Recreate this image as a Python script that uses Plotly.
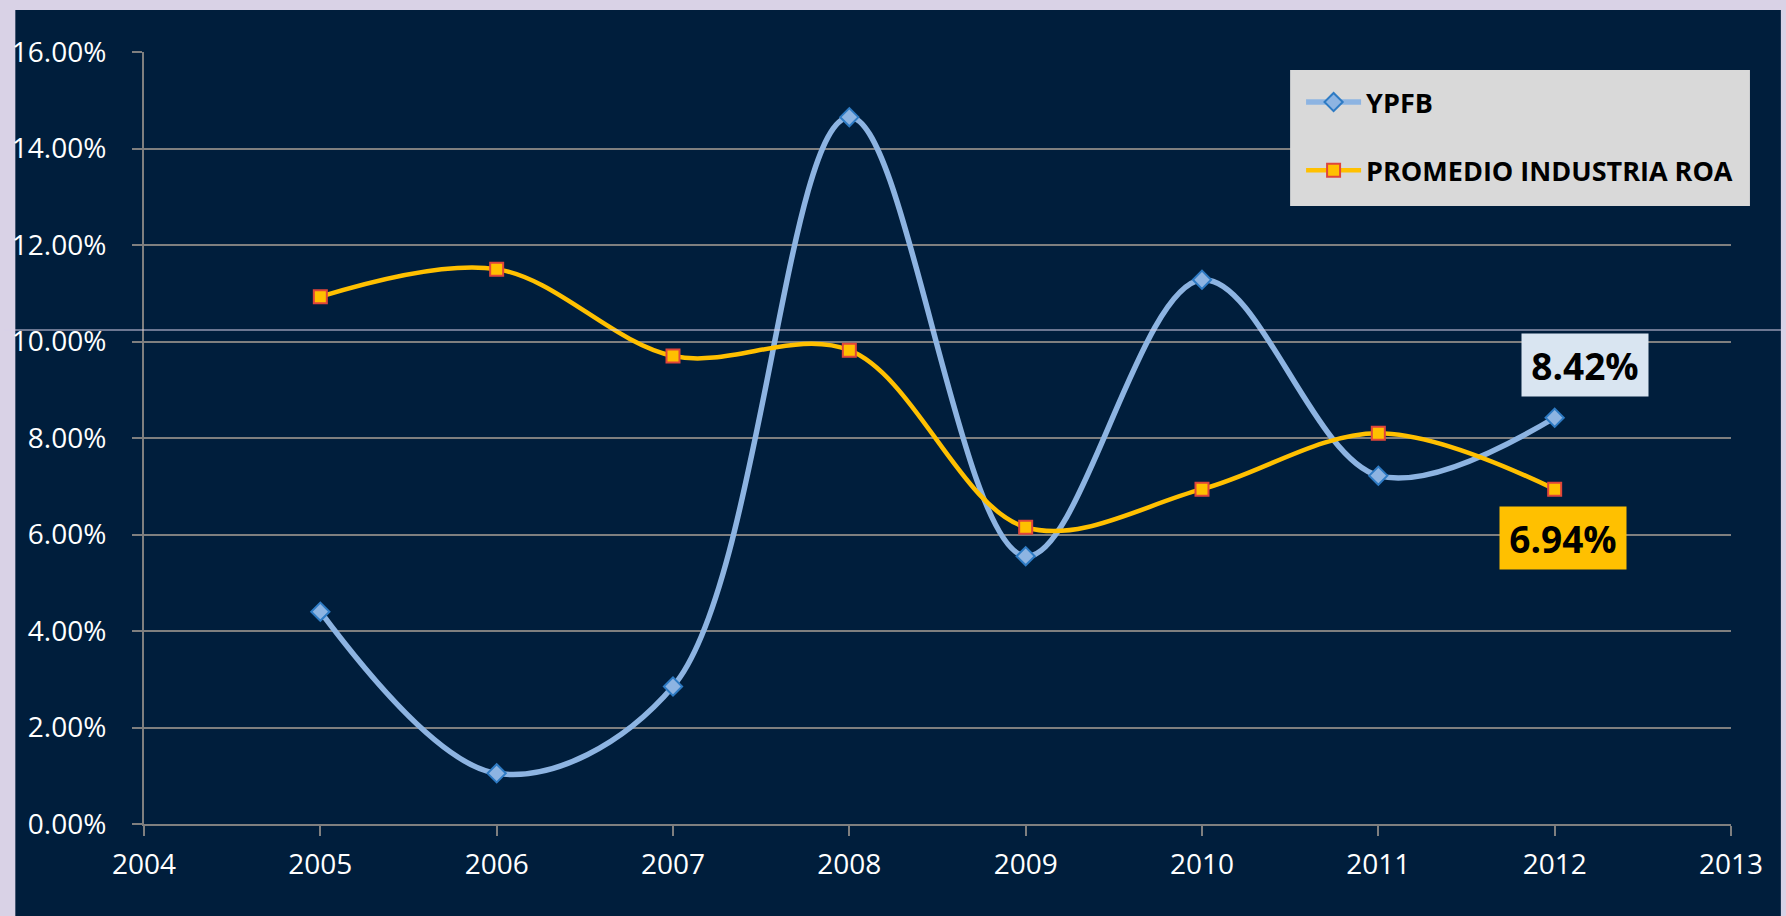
import plotly.graph_objects as go

years = [2005, 2006, 2007, 2008, 2009, 2010, 2011, 2012]
ypfb = [4.40, 1.05, 2.85, 14.65, 5.55, 11.28, 7.22, 8.42]
promedio = [10.93, 11.50, 9.70, 9.82, 6.15, 6.94, 8.10, 6.94]
series_names = ["YPFB", "PROMEDIO INDUSTRIA ROA"]
label_ypfb = "8.42%"
label_prom = "6.94%"

W, H = 1786, 916
ML, MR, MT, MB = 140, 55, 52, 92
PW, PH = W - ML - MR, H - MT - MB

def px(x):
    return (x - ML) / PW

def py(y):
    return (H - MB - y) / PH

FONT = "Open Sans"
BG = "#D9D2E6"
PANEL = "#001E3C"
GRID = "#7F7F7F"

fig = go.Figure()
fig.add_trace(go.Scatter(
    x=years, y=ypfb, name=series_names[0], mode="lines+markers",
    line=dict(color="#8DB4E2", width=5.5, shape="spline", smoothing=1.0),
    marker=dict(symbol="diamond", size=14, color="#8DB4E2",
                line=dict(color="#2E7BC4", width=2)),
    legendgroup="a",
))
fig.add_trace(go.Scatter(
    x=years, y=promedio, name=series_names[1], mode="lines+markers",
    line=dict(color="#FFC000", width=4.5, shape="spline", smoothing=1.0),
    marker=dict(symbol="square", size=13, color="#FFC000",
                line=dict(color="#E0453A", width=2)),
    legendgroup="b",
))

shapes = [
    dict(type="rect", xref="paper", yref="paper", layer="below",
         x0=px(11), x1=px(1781), y0=py(930), y1=py(10),
         fillcolor=PANEL, line=dict(width=0)),
    dict(type="rect", xref="paper", yref="paper", layer="above",
         x0=px(1289), x1=px(1750), y0=py(206), y1=py(70),
         fillcolor="#D9D9D9", line=dict(width=0)),
    dict(type="line", xref="paper", yref="paper", layer="above",
         x0=px(0), x1=px(W), y0=py(330), y1=py(330),
         line=dict(color="#D8D0E8", width=1)),
]

annotations = [
    dict(x=years[-1], y=ypfb[-1], xref="x", yref="y", text="<b>" + label_ypfb + "</b>",
         showarrow=False, xshift=30, yshift=53, width=124, height=60,
         bgcolor="#D9E5F1", font=dict(family=FONT, size=37, color="black")),
    dict(x=years[-1], y=promedio[-1], xref="x", yref="y", text="<b>" + label_prom + "</b>",
         showarrow=False, xshift=8, yshift=-49, width=124, height=60,
         bgcolor="#FFC000", font=dict(family=FONT, size=37, color="black")),
]

fig.update_layout(
    width=W, height=H,
    margin=dict(l=ML, r=MR, t=MT, b=MB, pad=0),
    paper_bgcolor=BG, plot_bgcolor="rgba(0,0,0,0)",
    font=dict(family=FONT, size=28, color="white"),
    shapes=shapes, annotations=annotations,
    showlegend=True,
    legend=dict(x=px(1300), y=py(78), xanchor="left", yanchor="top",
                bgcolor="rgba(0,0,0,0)", borderwidth=0,
                font=dict(family=FONT, size=27, color="black", weight="bold"),
                itemwidth=55, tracegroupgap=30),
    xaxis=dict(range=[2004, 2013], dtick=1, tick0=2004, showgrid=False,
               showline=True, linecolor=GRID, linewidth=2,
               ticks="outside", ticklen=10, tickcolor=GRID, tickwidth=2,
               tickfont=dict(family=FONT, size=28, color="white"),
               zeroline=False, ticklabelstandoff=4),
    yaxis=dict(range=[0, 16], dtick=2, tick0=0, tickformat=".2f", ticksuffix="%",
               showgrid=True, gridcolor=GRID, gridwidth=2,
               showline=True, linecolor=GRID, linewidth=2,
               ticks="outside", ticklen=10, tickcolor=GRID, tickwidth=2,
               tickfont=dict(family=FONT, size=28, color="white"),
               zeroline=False, ticklabelstandoff=20),
)

fig.write_html(
    "out.html",
    config={"displayModeBar": False},
    post_script="document.body.style.margin='0';document.body.style.background='" + BG + "';document.body.style.overflow='hidden';",
)
